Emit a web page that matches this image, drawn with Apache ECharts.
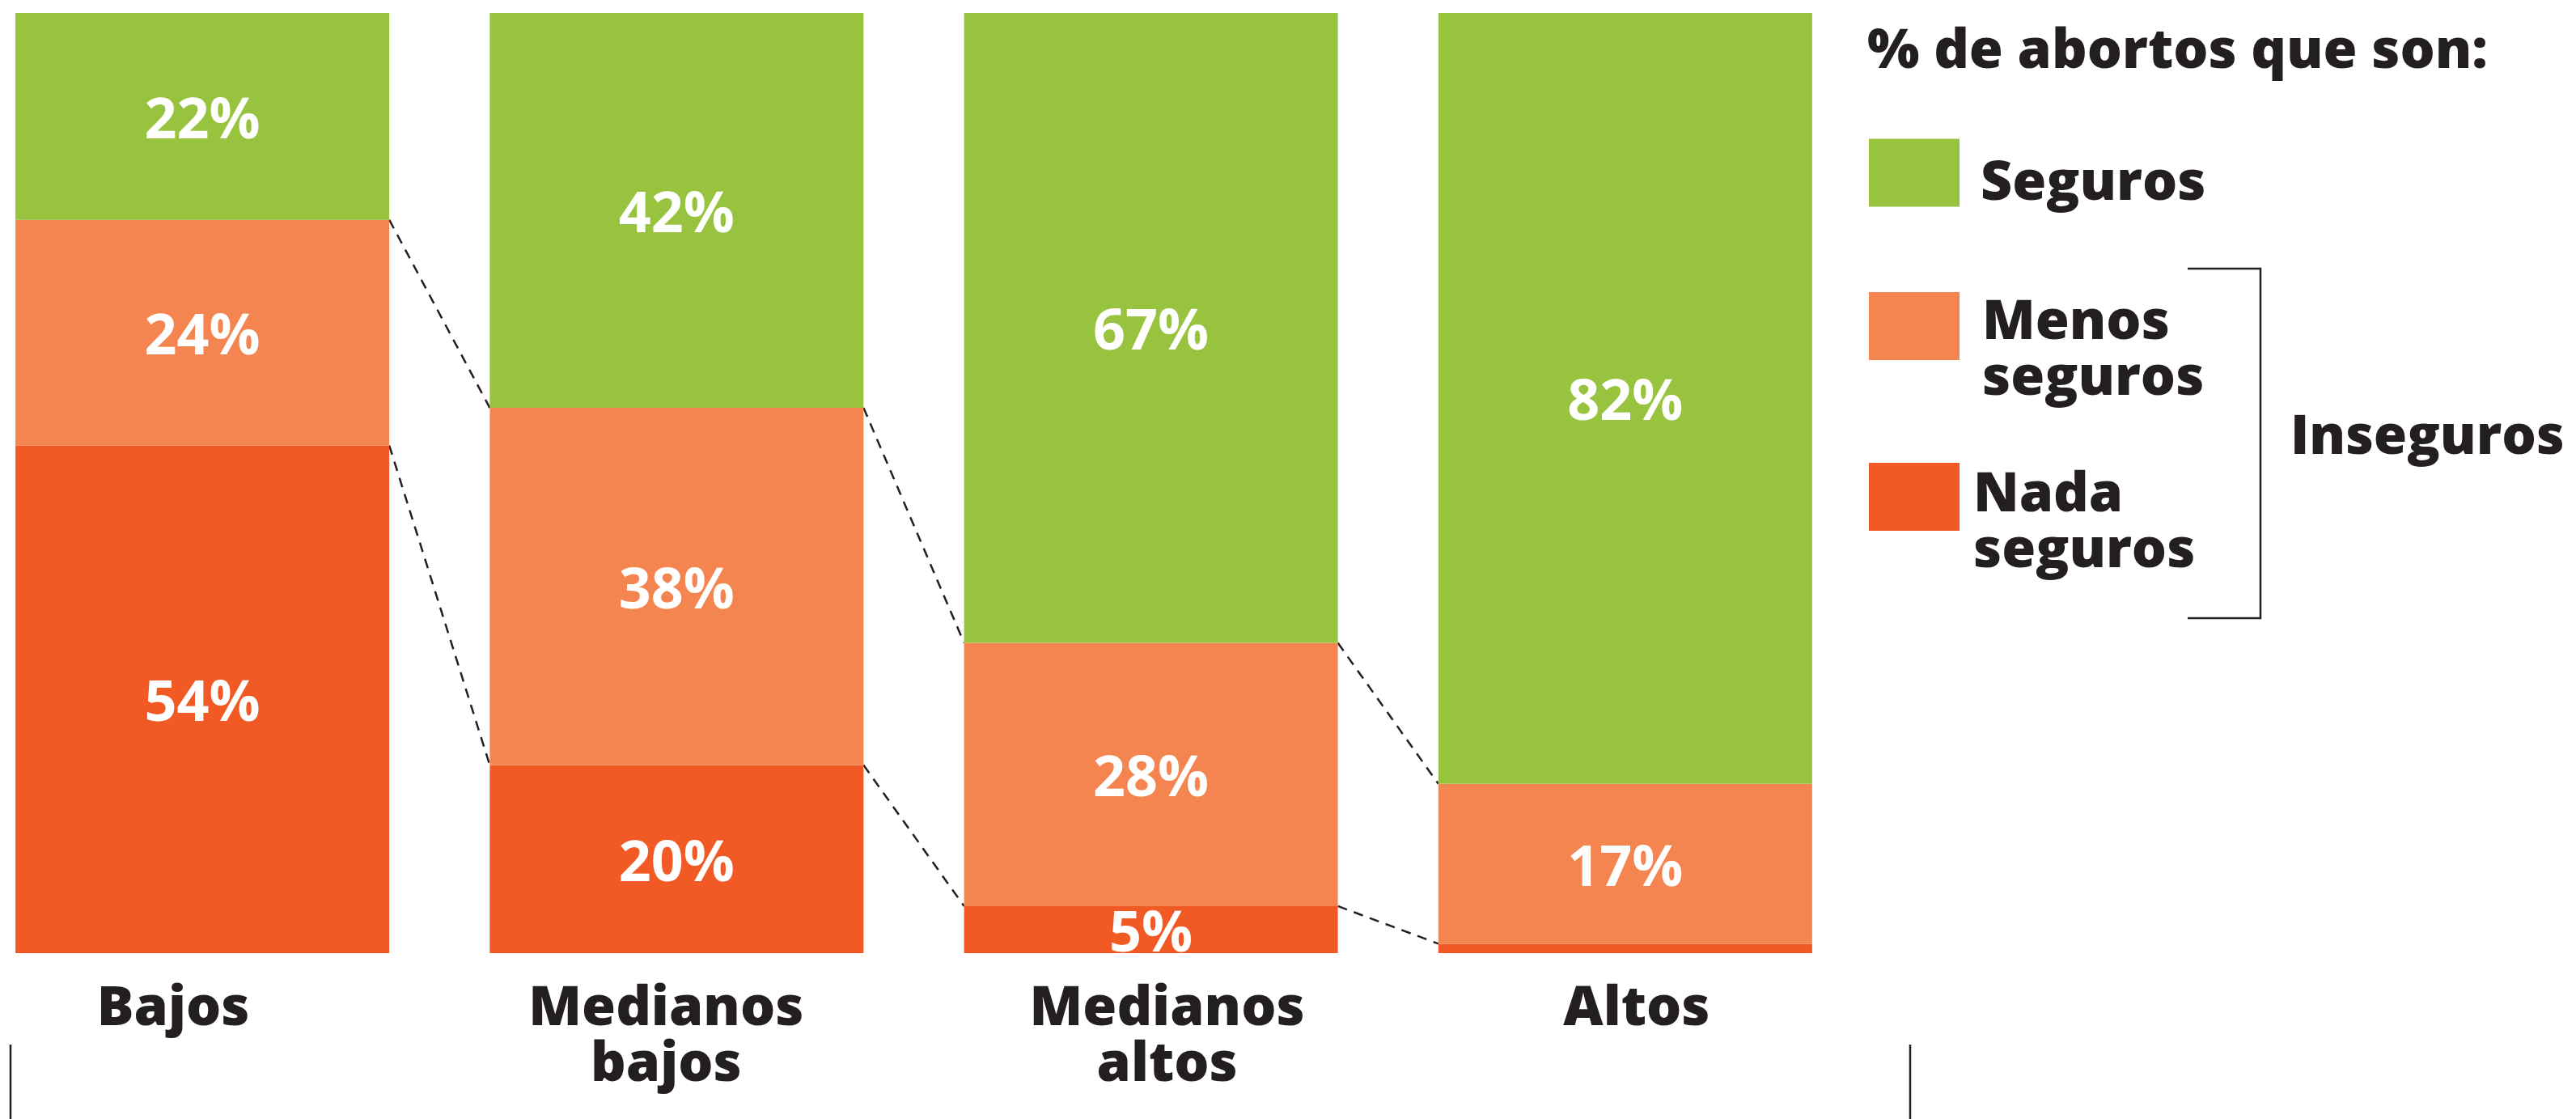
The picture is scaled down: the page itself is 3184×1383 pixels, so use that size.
<!DOCTYPE html>
<html><head><meta charset="utf-8">
<script src="https://cdn.jsdelivr.net/npm/echarts@6/dist/echarts.min.js"></script>
<style>html,body{margin:0;padding:0;background:#fff}#c{width:3184px;height:1383px}</style>
</head><body><div id="c"></div>
<script>
// ---- data ----
const categories = ['Bajos', 'Medianos\nbajos', 'Medianos\naltos', 'Altos'];
const seguros = [22, 42, 67, 82];
const menosSeguros = [24, 38, 28, 17];
const nadaSeguros = [54, 20, 5, 1];
const seriesNames = ['Seguros', 'Menos seguros', 'Nada seguros'];
const legendTitle = '% de abortos que son:';
const bracketLabel = 'Inseguros';

// ---- style ----
const COLORS = { seg: '#97C33E', menos: '#F58550', nada: '#F15A24' };
const INK = '#231F20';
const FONT = "'Open Sans', 'Noto Sans', sans-serif";
const BAR_W = 462;
const labelShift = [-36, -13, 20, 14];

// connector levels (boundaries between stacked segments) from the series
const connectors = [];
for (let i = 0; i < categories.length - 1; i++) {
  connectors.push([i, nadaSeguros[i] + menosSeguros[i], nadaSeguros[i + 1] + menosSeguros[i + 1]]);
  connectors.push([i, nadaSeguros[i], nadaSeguros[i + 1]]);
}

const valueLabel = {
  show: true, position: 'inside', offset: [0, 7],
  formatter: p => (p.value >= 5 ? p.value + '%' : ''),
  color: '#fff', fontSize: 70, fontWeight: 'bold', fontFamily: FONT
};

const txt = { fontSize: 68, fontWeight: 800, fontFamily: FONT, color: INK, lineHeight: 69 };
function makeLegend(name, top, spacer, padLeft) {
  return {
    data: [name], orient: 'vertical', left: 2310, top: top,
    itemWidth: 112, itemHeight: 84, icon: 'rect', padding: 0, selectedMode: false,
    formatter: n => '{sp| }\n' + n.split(' ').map(w => '{t|' + w + '}').join(n === 'Seguros' ? '' : '\n'),
    textStyle: {
      padding: [0, 0, 0, padLeft],
      rich: { sp: { fontSize: 8, lineHeight: spacer }, t: txt }
    }
  };
}

const chart = echarts.init(document.getElementById('c'));
chart.setOption({
  animation: false,
  backgroundColor: '#fff',
  title: {
    text: legendTitle, left: 2308, top: 31, padding: 0,
    textStyle: { fontSize: 68, fontWeight: 800, fontFamily: FONT, color: INK, lineHeight: 67 }
  },
  legend: [
    makeLegend(seriesNames[0], 171.5, 28, 21),
    makeLegend(seriesNames[1], 330, 63, 23),
    makeLegend(seriesNames[2], 541, 67, 12)
  ],
  grid: { left: -43, right: 882, top: 16, bottom: 205, outerBoundsMode: 'none', containLabel: false },
  xAxis: {
    type: 'category',
    data: categories.map((c, i) => ({
      value: c,
      textStyle: { padding: labelShift[i] < 0 ? [0, -2 * labelShift[i], 0, 0] : [0, 0, 0, 2 * labelShift[i]] }
    })),
    axisLine: { show: false }, axisTick: { show: false },
    axisLabel: { margin: 35, fontSize: 68, fontWeight: 800, fontFamily: FONT, color: INK, lineHeight: 69, interval: 0 }
  },
  yAxis: { type: 'value', min: 0, max: 100, show: false, splitLine: { show: false } },
  series: [
    { name: seriesNames[2], type: 'bar', stack: 't', data: nadaSeguros, barWidth: BAR_W, itemStyle: { color: COLORS.nada }, label: valueLabel },
    { name: seriesNames[1], type: 'bar', stack: 't', data: menosSeguros, barWidth: BAR_W, itemStyle: { color: COLORS.menos }, label: valueLabel },
    { name: seriesNames[0], type: 'bar', stack: 't', data: seguros, barWidth: BAR_W, itemStyle: { color: COLORS.seg }, label: valueLabel },
    {
      type: 'custom', data: connectors, silent: true, z: 1,
      encode: { x: 0, y: [1, 2] },
      renderItem: (params, api) => {
        const i = api.value(0);
        const p1 = api.coord([i, api.value(1)]);
        const p2 = api.coord([i + 1, api.value(2)]);
        return {
          type: 'line',
          shape: { x1: p1[0] + BAR_W / 2, y1: p1[1], x2: p2[0] - BAR_W / 2, y2: p2[1] },
          style: { stroke: INK, lineWidth: 2.5, lineDash: [12, 9] }
        };
      }
    }
  ],
  graphic: [
    { type: 'polyline', shape: { points: [[2704, 332], [2794, 332], [2794, 764], [2704, 764]] }, style: { stroke: INK, lineWidth: 2.5, fill: null } },
    { type: 'text', style: { x: 2831, y: 542, text: bracketLabel, fill: INK, font: "800 67px 'Open Sans'", align: 'left', verticalAlign: 'middle' } },
    { type: 'line', shape: { x1: 13, y1: 1291, x2: 13, y2: 1383 }, style: { stroke: INK, lineWidth: 2.5 } },
    { type: 'line', shape: { x1: 2361, y1: 1291, x2: 2361, y2: 1383 }, style: { stroke: INK, lineWidth: 2.5 } }
  ]
});
</script></body></html>
